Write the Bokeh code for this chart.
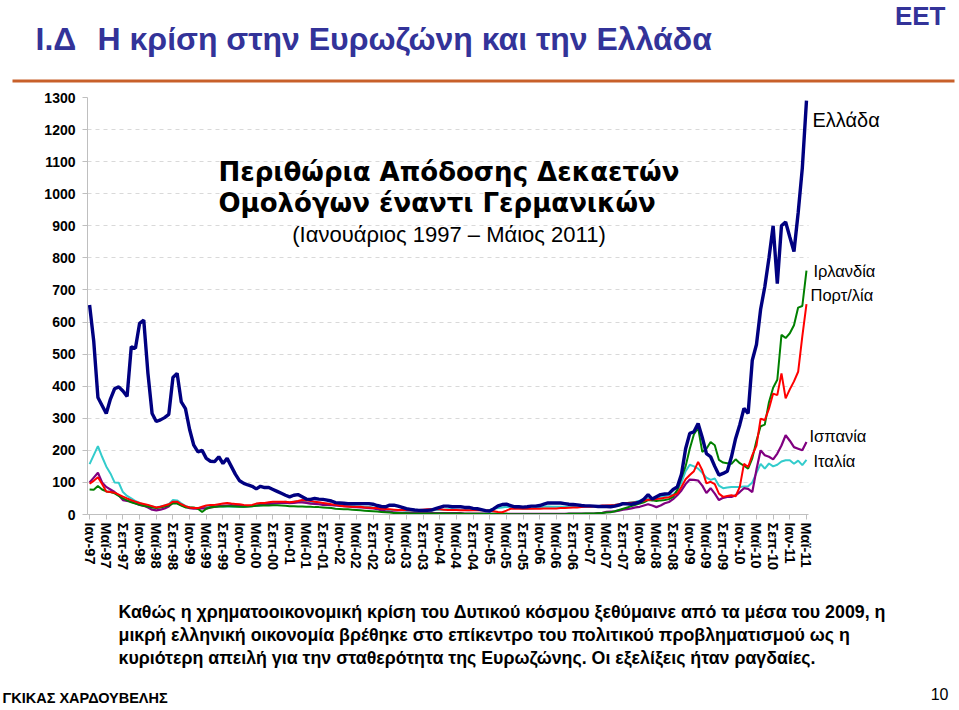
from bokeh.plotting import figure
from bokeh.models import Range1d, FixedTicker, Label, BoxAnnotation
from bokeh.layouts import column
from bokeh.core.properties import value
from bokeh.embed import file_html
from bokeh.resources import INLINE

# ---------------- data ----------------
month_names = ["Ιαν", "Φεβ", "Μαρ", "Απρ", "Μαϊ", "Ιουν", "Ιουλ", "Αυγ", "Σεπ", "Οκτ", "Νοε", "Δεκ"]
years = list(range(1997, 2012))
categories = [f"{month_names[m]}-{str(y)[2:]}" for y in years for m in range(12)][:173]
months = list(range(len(categories)))
tick_positions = list(range(0, 173, 4))
tick_labels = {i: categories[i] for i in tick_positions}

greece = [
    653, 540, 365, 340, 315, 360, 392, 398, 385, 368, 523, 518,
    596, 606, 440, 315, 290, 295, 302, 312, 427, 440, 351, 330,
    265, 216, 195, 200, 175, 166, 165, 180, 159, 175, 150, 125,
    105, 97, 92, 88, 80, 88, 84, 84, 78, 72, 66, 60,
    55, 60, 62, 55, 48, 47, 50, 48, 47, 45, 42, 37,
    36, 35, 34, 34, 34, 34, 34, 34, 32, 28, 25, 24,
    29, 29, 26, 22, 18, 16, 14, 13, 13, 13, 14, 18,
    22, 26, 26, 24, 24, 24, 22, 22, 19, 18, 15, 12,
    11, 18, 27, 31, 32, 28, 24, 24, 23, 24, 26, 26,
    28, 32, 36, 36, 36, 36, 34, 32, 31, 30, 28, 27,
    27, 26, 25, 25, 25, 24, 26, 29, 34, 33, 32, 35,
    39, 48, 62, 48, 55, 62, 64, 65, 78, 86, 125, 205,
    253, 258, 284, 240, 190, 180, 150, 123, 128, 135, 180, 237,
    280, 331, 315, 481, 530, 640, 710, 800, 900, 720, 900, 912,
    865, 820, 940, 1080, 1290]

italy = [
    157, 185, 213, 180, 150, 128, 100, 99, 70, 58, 50, 42,
    36, 30, 28, 25, 22, 25, 28, 32, 45, 44, 35, 27,
    22, 20, 20, 22, 24, 25, 25, 26, 25, 26, 24, 24,
    24, 23, 25, 26, 28, 28, 30, 32, 35, 36, 38, 40,
    38, 40, 42, 40, 38, 36, 36, 34, 32, 32, 30, 28,
    30, 28, 28, 27, 26, 25, 24, 24, 22, 19, 16, 15,
    14, 14, 14, 13, 12, 12, 12, 13, 14, 14, 13, 14,
    15, 15, 16, 16, 15, 14, 14, 13, 14, 14, 13, 12,
    14, 18, 20, 22, 24, 22, 20, 20, 18, 18, 19, 20,
    22, 24, 25, 24, 24, 24, 24, 24, 24, 25, 26, 26,
    25, 25, 25, 26, 27, 28, 30, 32, 35, 36, 38, 40,
    43, 46, 48, 50, 52, 55, 58, 60, 62, 75, 100, 135,
    155, 150, 143, 130, 115, 108, 112, 90, 82, 84, 86, 86,
    86, 87, 88, 100, 130, 158, 143, 159, 150, 155, 165, 169,
    169, 158, 168, 154, 170]

ireland = [
    78, 77, 89, 78, 72, 70, 66, 58, 50, 44, 38, 34,
    30, 27, 25, 22, 20, 22, 25, 28, 35, 34, 28, 22,
    22, 22, 18, 8, 18, 22, 24, 25, 25, 26, 26, 25,
    24, 24, 25, 26, 27, 28, 28, 28, 29, 29, 28, 27,
    26, 26, 25, 25, 24, 24, 23, 23, 22, 21, 20, 18,
    17, 16, 16, 15, 14, 13, 12, 11, 10, 9, 8, 7,
    6, 5, 5, 4, 4, 3, 3, 3, 3, 3, 3, 3,
    3, 3, 3, 3, 3, 3, 2, 2, 2, 2, 2, 2,
    2, 2, 2, 2, 2, 1, 1, 1, 1, 1, 1, 1,
    1, 1, 1, 1, 1, 1, 1, 2, 2, 2, 2, 3,
    3, 3, 4, 5, 6, 7, 10, 14, 18, 22, 26, 30,
    34, 38, 45, 44, 42, 44, 45, 48, 55, 76, 115, 150,
    205, 250, 270, 195, 205, 226, 216, 170, 162, 160, 158, 172,
    160, 152, 143, 175, 230, 275, 280, 350, 395, 420, 560, 550,
    565, 590, 645, 650, 760]

portugal = [
    96, 105, 116, 95, 72, 70, 68, 62, 56, 50, 45, 40,
    36, 33, 30, 26, 22, 24, 28, 32, 40, 40, 32, 26,
    22, 20, 20, 24, 28, 30, 30, 32, 34, 36, 34, 33,
    32, 30, 29, 30, 34, 36, 36, 38, 40, 40, 40, 40,
    38, 40, 42, 45, 44, 42, 40, 38, 36, 34, 32, 30,
    28, 26, 25, 24, 24, 24, 22, 22, 20, 20, 18, 17,
    16, 15, 14, 14, 14, 13, 13, 14, 15, 16, 16, 16,
    16, 15, 14, 14, 14, 13, 13, 13, 13, 13, 13, 13,
    12, 10, 8, 7, 12, 18, 19, 18, 18, 18, 18, 18,
    18, 19, 19, 19, 19, 20, 20, 21, 22, 22, 23, 24,
    24, 25, 26, 28, 28, 29, 30, 32, 34, 36, 37, 38,
    40, 43, 46, 47, 48, 50, 52, 54, 60, 65, 86, 110,
    123, 135, 164, 138, 97, 102, 95, 65, 55, 58, 60, 57,
    86, 158, 148, 185, 215, 299, 294, 330, 377, 372, 440, 362,
    390, 415, 445, 555, 656]

spain = [
    100, 115, 130, 100, 86, 78, 70, 60, 45, 42, 40, 35,
    30, 27, 22, 15, 13, 15, 19, 25, 38, 36, 30, 24,
    20, 18, 18, 19, 19, 22, 24, 26, 28, 28, 29, 28,
    27, 26, 26, 27, 28, 30, 32, 33, 34, 35, 36, 36,
    35, 36, 38, 38, 36, 34, 33, 32, 30, 30, 29, 28,
    27, 26, 25, 24, 23, 22, 21, 20, 19, 17, 13, 10,
    8, 7, 6, 5, 5, 5, 5, 5, 5, 5, 5, 4,
    4, 4, 4, 4, 4, 4, 3, 3, 3, 3, 3, 3,
    2, 2, 2, 2, 2, 2, 2, 2, 2, 2, 2, 2,
    2, 2, 2, 2, 2, 2, 2, 3, 3, 3, 3, 3,
    3, 3, 4, 5, 8, 9, 10, 12, 15, 17, 19, 22,
    24, 28, 32, 28, 23, 28, 35, 39, 48, 60, 75, 95,
    109, 108, 106, 90, 67, 82, 65, 45, 52, 55, 55, 60,
    70, 82, 80, 70, 140, 200, 185, 180, 172, 190, 215, 247,
    230, 210, 205, 200, 226]

y_ticks = list(range(0, 1301, 100))

W = 959
BLUE = "#333399"

def htext(fig, text, px, py, oy, size, font="Liberation Sans", style="normal",
          color="black", align="left"):
    fig.text(x=[px], y=[py - oy], text=[text], text_font=value(font),
             text_font_style=style, text_font_size=size, text_color=color,
             text_align=align, text_baseline="middle")

# ---------------- header (page y 0..89) ----------------
HH = 89
head = figure(width=W, height=HH, output_backend="svg", toolbar_location=None,
              x_range=Range1d(0, W), y_range=Range1d(HH, 0),
              x_axis_type=None, y_axis_type=None, min_border=0,
              background_fill_color="white", border_fill_color="white")
head.frame_align = False
head.outline_line_color = None
head.grid.visible = False

htext(head, "Ι.Δ", 35, 38, 0, "32px", style="bold", color=BLUE)
htext(head, "Η κρίση στην Ευρωζώνη και την Ελλάδα", 97, 38, 0, "32px", style="bold", color=BLUE)
htext(head, "ΕΕΤ", 945, 15, 0, "26px", style="bold", color=BLUE, align="right")
head.add_layout(BoxAnnotation(left=12, right=954, top=79, bottom=82,
                              fill_color="#C8602A", fill_alpha=1, line_color=None))

# ---------------- main chart (page y 89..590) ----------------
MH = 501
LEFT = 87
px_per_month = 4.168
frame_w = W - LEFT
p = figure(width=W, height=MH, output_backend="svg", toolbar_location=None,
           x_range=Range1d(-0.5, -0.5 + frame_w / px_per_month), y_range=Range1d(0, 1300),
           min_border_left=LEFT, min_border_right=0, min_border_top=8, min_border_bottom=76,
           background_fill_color="white", border_fill_color="white")
p.outline_line_color = None

p.xgrid.visible = False
p.ygrid.ticker = FixedTicker(ticks=y_ticks[1:])
p.ygrid.grid_line_color = "#d9d9d9"
p.ygrid.grid_line_dash = "4 4"
p.ygrid.cross_bounds = (-0.5, 172.5)

ya = p.yaxis[0]
ya.ticker = FixedTicker(ticks=y_ticks)
ya.axis_line_color = "#bfbfbf"
ya.major_tick_line_color = "#bfbfbf"
ya.major_tick_out = 5
ya.major_tick_in = 0
ya.minor_tick_line_color = None
ya.major_label_standoff = 7
ya.major_label_text_font = "Liberation Sans"
ya.major_label_text_font_style = "bold"
ya.major_label_text_font_size = "14px"
ya.major_label_text_color = "black"

xa = p.xaxis[0]
xa.ticker = FixedTicker(ticks=tick_positions)
xa.bounds = (-0.5, 172.5)
xa.major_label_overrides = tick_labels
xa.major_label_orientation = "vertical"
xa.axis_line_color = "#bfbfbf"
xa.major_tick_line_color = "#bfbfbf"
xa.major_tick_out = 5
xa.major_tick_in = 0
xa.minor_tick_line_color = None
xa.major_label_standoff = 3
xa.major_label_text_font = "Liberation Sans"
xa.major_label_text_font_style = "bold"
xa.major_label_text_font_size = "14.5px"
xa.major_label_text_color = "black"

p.line(months, italy, line_color="#33CCCC", line_width=2)
p.line(months, spain, line_color="#800080", line_width=2.2)
p.line(months, ireland, line_color="#008000", line_width=2)
p.line(months, portugal, line_color="#FF0000", line_width=2)
p.line(months, greece, line_color="#000080", line_width=3.4)

def X(px):  # page x -> data x
    return (px - LEFT) / px_per_month - 0.5

def Y(py):  # page y -> data y
    return (514.0 - py) / (417 / 1300)

def lab(text, px, py, size, font="Liberation Sans", style="normal", color="black", align="left"):
    p.add_layout(Label(x=X(px), y=Y(py), text=text, text_font=font, text_font_style=style,
                       text_font_size=size, text_color=color, text_align=align,
                       text_baseline="middle"))

lab("Περιθώρια Απόδοσης Δεκαετών", 218, 171, "26px", font="DejaVu Sans", style="bold")
lab("Ομολόγων έναντι Γερμανικών", 218, 202, "26px", font="DejaVu Sans", style="bold")
lab("(Ιανουάριος 1997 – Μάιος 2011)", 448.5, 234, "22px", align="center")

lab("Ελλάδα", 812, 119, "20px")
lab("Ιρλανδία", 813, 270, "16.5px")
lab("Πορτ/λία", 810, 294, "16.5px")
lab("Ισπανία", 809, 435, "16.5px")
lab("Ιταλία", 813, 460, "16.5px")

# ---------------- footer (page y 590..708) ----------------
FH = 118
foot = figure(width=W, height=FH, output_backend="svg", toolbar_location=None,
              x_range=Range1d(0, W), y_range=Range1d(FH, 0),
              x_axis_type=None, y_axis_type=None, min_border=0,
              background_fill_color="white", border_fill_color="white")
foot.frame_align = False
foot.outline_line_color = None
foot.grid.visible = False

para = [
    "Καθώς η χρηματοοικονομική κρίση του Δυτικού κόσμου ξεθύμαινε από τα μέσα του 2009, η",
    "μικρή ελληνική οικονομία βρέθηκε στο επίκεντρο του πολιτικού προβληματισμού ως η",
    "κυριότερη απειλή για την σταθερότητα της Ευρωζώνης. Οι εξελίξεις ήταν ραγδαίες.",
]
for i, line in enumerate(para):
    htext(foot, line, 118, 611 + 23 * i, 590, "17.8px", style="bold")

htext(foot, "ΓΚΙΚΑΣ ΧΑΡΔΟΥΒΕΛΗΣ", 2, 697, 590, "14.5px", style="bold")
htext(foot, "10", 948, 693, 590, "16px", align="right")

layout = column(head, p, foot, spacing=0)
open("out.html", "w").write(file_html(layout, INLINE))
